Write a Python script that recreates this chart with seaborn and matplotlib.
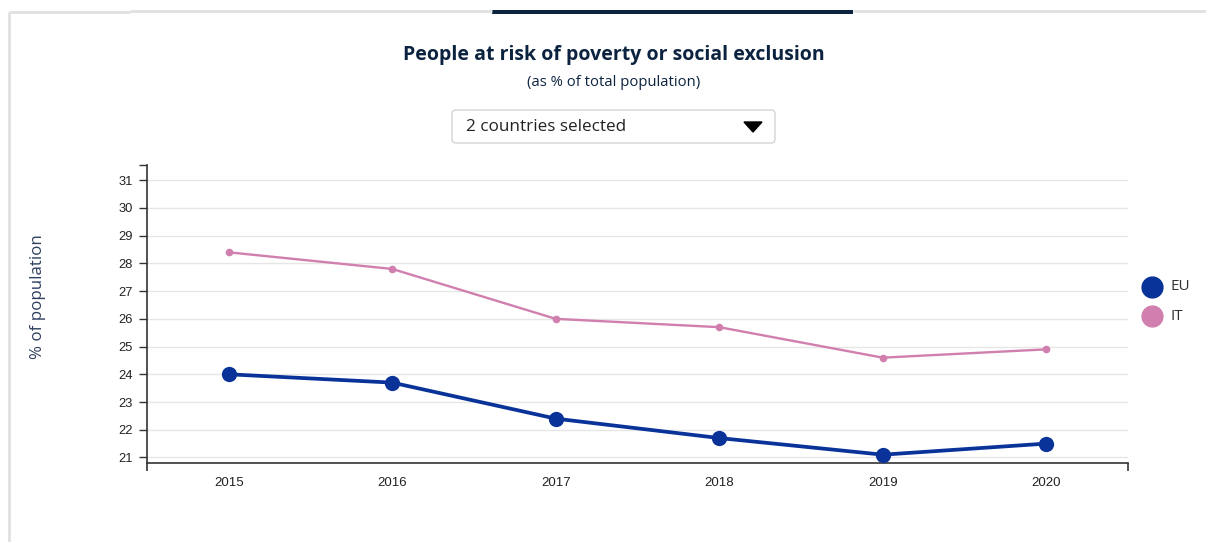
import matplotlib
matplotlib.use("Agg")
import matplotlib.pyplot as plt
import seaborn as sns
import pandas as pd
from matplotlib.lines import Line2D
from matplotlib.patches import FancyBboxPatch, Polygon, Rectangle
from matplotlib.transforms import IdentityTransform
from matplotlib.ticker import FixedLocator

# Data
years = [2015, 2016, 2017, 2018, 2019, 2020]
eu_values = [24.0, 23.7, 22.4, 21.7, 21.1, 21.5]
it_values = [28.4, 27.8, 26.0, 25.7, 24.6, 24.9]
countries = ["EU", "IT"]
y_ticks = list(range(21, 32))

EU_COLOR = "#0a3399"
IT_COLOR = "#d07fae"
NAVY = "#0c2340"

df = pd.DataFrame({
    "year": years * 2,
    "value": eu_values + it_values,
    "country": ["EU"] * len(years) + ["IT"] * len(years),
})

sns.set_theme(style="white")
plt.rcParams["font.family"] = ["Liberation Sans", "DejaVu Sans"]

W, H = 1206, 542
fig = plt.figure(figsize=(W / 100, H / 100), dpi=100)
fig.patch.set_facecolor("white")


def px_axes(x0, y0, x1, y1):
    return [x0 / W, 1 - y1 / H, (x1 - x0) / W, (y1 - y0) / H]


ax = fig.add_axes(px_axes(147, 165, 1128, 463))

sns.lineplot(data=df[df.country == "IT"], x="year", y="value", ax=ax,
             color=IT_COLOR, linewidth=1.7, marker="o", markersize=5.5,
             markeredgewidth=0, legend=False, zorder=3)
sns.lineplot(data=df[df.country == "EU"], x="year", y="value", ax=ax,
             color=EU_COLOR, linewidth=2.7, marker="o", markersize=11,
             markeredgewidth=0, legend=False, zorder=4)

ax.set_xlim(2014.5, 2020.5)
ax.set_ylim(20.8, 31.55)
ax.set_xticks(years)
ax.set_xticklabels([str(y) for y in years])
ax.set_yticks(y_ticks)
ax.set_yticklabels([str(t) for t in y_ticks])
ax.xaxis.set_minor_locator(FixedLocator([2014.5, 2020.5]))
ax.yaxis.set_minor_locator(FixedLocator([31.55]))

ax.tick_params(axis="x", which="major", length=0, pad=10, labelsize=9.5,
               labelcolor="#222222")
ax.tick_params(axis="x", which="minor", length=6, width=1.2, color="#333333",
               direction="out", bottom=True)
ax.tick_params(axis="y", which="both", length=6, width=1, color="#333333",
               direction="out", left=True, pad=4, labelsize=9.3,
               labelcolor="#222222")

ax.grid(axis="y", color="#e6e6e6", linewidth=1)
ax.set_axisbelow(True)
for side in ["top", "right"]:
    ax.spines[side].set_visible(False)
for side in ["left", "bottom"]:
    ax.spines[side].set_color("#333333")
    ax.spines[side].set_linewidth(1.2)
ax.set_xlabel("")
ax.set_ylabel("")

tr = IdentityTransform()

# Page frame and tab highlight
frame = dict(transform=tr, color="#e0e0e0", linewidth=2, solid_capstyle="butt")
fig.add_artist(Line2D([9, 9], [H - 12, 0], **frame))
fig.add_artist(Line2D([9, 130], [H - 12, H - 12], **frame))
fig.add_artist(Line2D([130, 492], [H - 11, H - 11], **frame))
fig.add_artist(Line2D([853, W], [H - 11, H - 11], **frame))
fig.add_artist(Rectangle((492, H - 14), 361, 4, transform=tr, color=NAVY, linewidth=0))

# Titles
fig.text(614 / W, 1 - 55 / H, "People at risk of poverty or social exclusion",
         ha="center", va="center", fontsize=14, fontweight="bold",
         color=NAVY, family=["Open Sans", "DejaVu Sans"])
fig.text(614 / W, 1 - 82 / H, "(as % of total population)",
         ha="center", va="center", fontsize=10.7, color=NAVY,
         family=["Open Sans", "DejaVu Sans"])

# Country selector
fig.add_artist(FancyBboxPatch((452, H - 143), 323, 33, transform=tr,
                              boxstyle="round,pad=0,rounding_size=4",
                              facecolor="white", edgecolor="#d4d4d4", linewidth=1))
fig.text(466 / W, 1 - 127 / H, "2 countries selected", ha="left", va="center",
         fontsize=12.3, color="#222222", family=["Open Sans", "DejaVu Sans"])
fig.add_artist(Polygon([[744, H - 122], [762, H - 122], [753, H - 132]],
                       closed=True, transform=tr, color="black"))

# Y axis title
fig.text(38 / W, 1 - 297 / H, "% of population", ha="center", va="center",
         rotation=90, fontsize=12.2, color="#2f4060",
         family=["Open Sans", "DejaVu Sans"])

# Legend
for name, color, ypx in zip(countries, [EU_COLOR, IT_COLOR], [287, 316]):
    fig.add_artist(Line2D([1152], [H - ypx], transform=tr, marker="o",
                          markersize=15, color=color, linestyle="none"))
    fig.text(1170 / W, 1 - ypx / H, name, ha="left", va="center",
             fontsize=11, color="#333333", family=["Open Sans", "DejaVu Sans"])

fig.savefig("out.png", dpi=100)
